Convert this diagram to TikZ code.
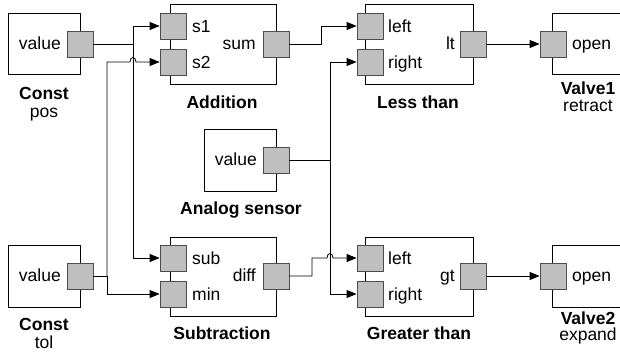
\documentclass[tikz,border=0pt]{standalone}
\usepackage{fontspec}
\setmainfont{Liberation Sans}
\usetikzlibrary{arrows.meta}

\tikzset{
    bloque/.style={draw, fill=white, line width=0.8pt, inner sep=0pt},
    puerto/.style={draw=black!70, fill=black!25, line width=0.8pt, minimum size=26pt, inner sep=0pt},
    etq/.style={inner sep=0pt},
    cable/.style={line width=0.8pt},
    flecha/.style={cable, -{Triangle[length=10pt,width=8pt]}},
}

\begin{document}
\begin{tikzpicture}[x=1pt, y=-1pt, font=\fontsize{17.5}{19}\selectfont]
    \clip (0,0) rectangle (620,351);  % marco de la figura

    % Bloques
    \node[bloque, minimum width=72pt, minimum height=61pt] (cpos) at (44,43.5) {};
    \node[bloque, minimum width=106pt, minimum height=80pt] (add) at (223,44) {};
    \node[bloque, minimum width=108pt, minimum height=80pt] (less) at (419,44) {};
    \node[bloque, minimum width=100pt, minimum height=61pt] (valA) at (602,43.5) {};
    \node[bloque, minimum width=72pt, minimum height=62pt] (sens) at (240,160) {};
    \node[bloque, minimum width=72pt, minimum height=62pt] (ctol) at (44,276) {};
    \node[bloque, minimum width=106pt, minimum height=79pt] (sub) at (223,276.5) {};
    \node[bloque, minimum width=108pt, minimum height=79pt] (great) at (419,276.5) {};
    \node[bloque, minimum width=100pt, minimum height=62pt] (valB) at (602,276) {};

    % Puertos
    \node[puerto] (cposOut) at (80,44) {};
    \node[puerto] (addS1) at (173,26) {};
    \node[puerto] (addS2) at (173,62) {};
    \node[puerto] (addSum) at (276,44) {};
    \node[puerto] (lessL) at (370,26) {};
    \node[puerto] (lessR) at (370,62) {};
    \node[puerto] (lessOut) at (473,44) {};
    \node[puerto] (valAIn) at (553,44) {};
    \node[puerto] (sensOut) at (276,160) {};
    \node[puerto] (ctolOut) at (80,276) {};
    \node[puerto] (subSub) at (173,258) {};
    \node[puerto] (subMin) at (173,294) {};
    \node[puerto] (subDiff) at (276,276) {};
    \node[puerto] (greatL) at (370,258) {};
    \node[puerto] (greatR) at (370,294) {};
    \node[puerto] (greatOut) at (473,276) {};
    \node[puerto] (valBIn) at (553,276) {};

    % Textos de los puertos
    \node[etq, anchor=base east] (cposVal) at (61,49.5) {value};
    \node[etq, anchor=base west] (addS1T) at (192,32) {s1};
    \node[etq, anchor=base west] (addS2T) at (192,68) {s2};
    \node[etq, anchor=base east] (addSumT) at (256,49.5) {sum};
    \node[etq, anchor=base west] (lessLT) at (388,32) {left};
    \node[etq, anchor=base west] (lessRT) at (388,68) {right};
    \node[etq, anchor=base east] (lessOutT) at (455,49.5) {lt};
    \node[etq, anchor=base west] (valAT) at (572,49.5) {open};
    \node[etq, anchor=base east] (sensVal) at (257,165.5) {value};
    \node[etq, anchor=base east] (ctolVal) at (61,281.5) {value};
    \node[etq, anchor=base west] (subSubT) at (192,264) {sub};
    \node[etq, anchor=base west] (subMinT) at (192,300) {min};
    \node[etq, anchor=base east] (subDiffT) at (256,281.5) {diff};
    \node[etq, anchor=base west] (greatLT) at (388,264) {left};
    \node[etq, anchor=base west] (greatRT) at (388,300) {right};
    \node[etq, anchor=base east] (greatOutT) at (455,281.5) {gt};
    \node[etq, anchor=base west] (valBT) at (572,281.5) {open};

    % Nombres de los bloques
    \node[etq, anchor=base] (cposNom) at (44,99.5) {\textbf{Const}};
    \node[etq, anchor=base] (cposSub) at (44,117) {pos};
    \node[etq, anchor=base] (addNom) at (222,108.5) {\textbf{Addition}};
    \node[etq, anchor=base] (lessNom) at (418,108.5) {\textbf{Less than}};
    \node[etq, anchor=base] (valANom) at (588,94) {\textbf{Valve1}};
    \node[etq, anchor=base] (valASub) at (588,111) {retract};
    \node[etq, anchor=base] (sensNom) at (241,214) {\textbf{Analog sensor}};
    \node[etq, anchor=base] (ctolNom) at (44,330.5) {\textbf{Const}};
    \node[etq, anchor=base] (ctolSub) at (44,348) {tol};
    \node[etq, anchor=base] (subNom) at (222,339.5) {\textbf{Subtraction}};
    \node[etq, anchor=base] (greatNom) at (419,339.5) {\textbf{Greater than}};
    \node[etq, anchor=base] (valBNom) at (588,324) {\textbf{Valve2}};
    \node[etq, anchor=base] (valBSub) at (588,340) {expand};

    % Cables
    \coordinate (jPos) at (133,44);
    \coordinate (jTol) at (107,276);
    \coordinate (jSens) at (330,160);
    \draw[cable] (cposOut.east) -- (jPos);
    \draw[flecha] (jPos) |- (addS1.west);
    \draw[flecha] (jPos) |- (subSub.west);
    \draw[cable] (ctolOut.east) -- (jTol);
    \draw[flecha] (jTol) -- (107,62) -- (130,62)
        .. controls (130,56) and (136,56) .. (136,62) -- (addS2.west);
    \draw[flecha] (jTol) |- (subMin.west);
    \draw[flecha] (addSum.east) -- (321,44) |- (lessL.west);
    \draw[cable] (sensOut.east) -- (jSens);
    \draw[flecha] (jSens) |- (lessR.west);
    \draw[flecha] (jSens) |- (greatR.west);
    \draw[flecha] (subDiff.east) -- (312,276) -- (312,258) -- (327,258)
        .. controls (327,252) and (333,252) .. (333,258) -- (greatL.west);
    \draw[flecha] (lessOut.east) -- (valAIn.west);
    \draw[flecha] (greatOut.east) -- (valBIn.west);
\end{tikzpicture}
\end{document}
